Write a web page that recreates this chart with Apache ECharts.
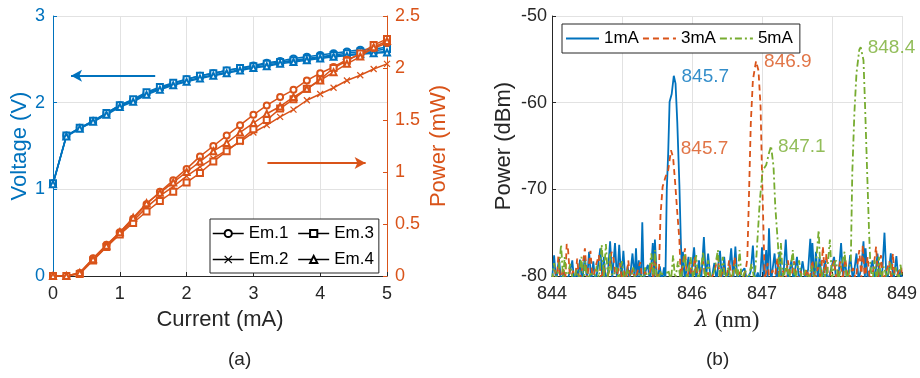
<!DOCTYPE html>
<html><head><meta charset="utf-8">
<script src="https://cdn.jsdelivr.net/npm/echarts@6/dist/echarts.min.js"></script>
<style>html,body{margin:0;padding:0;background:#fff}#c{width:920px;height:378px}</style>
</head><body><div id="c"></div>
<script>
// ---------- Data: (a) L-I-V ----------
const current = [0,0.2,0.4,0.6,0.8,1.0,1.2,1.4,1.6,1.8,2.0,2.2,2.4,2.6,2.8,3.0,3.2,3.4,3.6,3.8,4.0,4.2,4.4,4.6,4.8,5.0];
const voltEm1 = [1.07,1.62,1.71,1.79,1.88,1.97,2.03,2.11,2.17,2.22,2.27,2.31,2.34,2.37,2.40,2.43,2.46,2.48,2.51,2.53,2.55,2.57,2.59,2.61,2.62,2.64];
const voltEm2 = [1.06,1.61,1.70,1.78,1.87,1.96,2.02,2.10,2.16,2.21,2.25,2.29,2.32,2.35,2.38,2.41,2.43,2.46,2.48,2.50,2.52,2.54,2.55,2.57,2.58,2.59];
const voltEm3 = [1.07,1.62,1.71,1.79,1.88,1.97,2.04,2.12,2.18,2.23,2.27,2.31,2.34,2.37,2.40,2.42,2.45,2.47,2.49,2.51,2.53,2.55,2.57,2.59,2.60,2.62];
const voltEm4 = [1.06,1.61,1.70,1.78,1.86,1.95,2.01,2.09,2.15,2.20,2.24,2.28,2.31,2.34,2.37,2.40,2.42,2.45,2.47,2.49,2.51,2.53,2.54,2.56,2.57,2.58];
const powEm1 = [0,0,0.03,0.17,0.30,0.42,0.55,0.69,0.81,0.92,1.03,1.15,1.25,1.35,1.45,1.55,1.64,1.72,1.79,1.88,1.95,2.01,2.08,2.13,2.19,2.24];
const powEm2 = [0,0,0.03,0.16,0.28,0.41,0.53,0.66,0.77,0.86,0.96,1.05,1.13,1.21,1.29,1.38,1.45,1.53,1.60,1.69,1.75,1.81,1.88,1.93,1.99,2.04];
const powEm3 = [0,0,0.02,0.15,0.28,0.40,0.51,0.62,0.72,0.81,0.90,0.99,1.10,1.20,1.30,1.41,1.50,1.61,1.70,1.80,1.89,2.00,2.07,2.14,2.22,2.28];
const powEm4 = [0,0,0.03,0.16,0.29,0.42,0.56,0.70,0.80,0.90,1.00,1.10,1.20,1.28,1.38,1.47,1.56,1.63,1.72,1.80,1.88,1.96,2.04,2.11,2.20,2.26];
const emNames = ['Em.1','Em.2','Em.3','Em.4'];
const emSymbols = ['emptyCircle','path://M-1,-1L1,1M-1,1L1,-1','emptyRect','emptyTriangle'];

// ---------- Data: (b) spectra [wavelength nm, dBm] ----------
const spec1mA = [[844.00,-80.5],[844.03,-77.6],[844.06,-80.8],[844.08,-79.2],[844.10,-78.0],[844.13,-80.6],[844.17,-79.6],[844.21,-80.7],[844.26,-79.4],[844.29,-78.2],[844.32,-80.9],[844.35,-79.1],[844.37,-80.4],[844.40,-78.1],[844.43,-80.8],[844.47,-77.7],[844.50,-80.5],[844.53,-77.2],[844.56,-80.6],[844.59,-78.3],[844.62,-80.8],[844.65,-79.3],[844.69,-76.8],[844.72,-80.5],[844.74,-77.8],[844.77,-80.7],[844.80,-79.5],[844.83,-76.0],[844.86,-80.3],[844.90,-76.2],[844.93,-80.6],[844.96,-76.4],[844.99,-80.4],[845.02,-77.1],[845.05,-80.7],[845.08,-78.9],[845.11,-80.5],[845.15,-77.4],[845.18,-80.2],[845.20,-76.8],[845.22,-80.6],[845.24,-78.2],[845.27,-80.8],[845.29,-73.8],[845.31,-80.5],[845.34,-79.4],[845.37,-78.7],[845.40,-80.9],[845.44,-76.2],[845.46,-80.1],[845.47,-75.8],[845.50,-80.6],[845.54,-78.9],[845.57,-80.7],[845.60,-79.0],[845.62,-80.5],[845.64,-70.0],[845.66,-65.8],[845.68,-59.9],[845.71,-59.0],[845.74,-56.9],[845.765,-57.8],[845.79,-62.3],[845.82,-69.5],[845.84,-75.8],[845.86,-80.5],[845.87,-77.2],[845.90,-80.4],[845.95,-77.8],[845.98,-80.6],[846.03,-76.7],[846.06,-80.3],[846.10,-78.2],[846.13,-80.7],[846.17,-75.5],[846.20,-80.4],[846.23,-77.4],[846.27,-80.8],[846.32,-78.5],[846.35,-80.5],[846.40,-77.1],[846.43,-80.6],[846.46,-77.8],[846.49,-80.7],[846.53,-79.3],[846.56,-76.8],[846.59,-80.5],[846.62,-76.6],[846.65,-80.8],[846.70,-79.6],[846.75,-79.1],[846.79,-80.7],[846.84,-79.4],[846.87,-76.5],[846.90,-80.6],[846.94,-79.6],[846.97,-80.8],[847.00,-76.7],[847.03,-80.4],[847.06,-77.0],[847.08,-80.3],[847.10,-74.5],[847.13,-80.6],[847.18,-77.4],[847.21,-80.5],[847.25,-77.2],[847.28,-80.7],[847.31,-79.5],[847.34,-75.8],[847.37,-80.6],[847.42,-78.2],[847.45,-80.5],[847.50,-77.8],[847.53,-80.8],[847.58,-78.3],[847.62,-80.6],[847.66,-79.2],[847.69,-75.7],[847.71,-80.2],[847.72,-76.2],[847.75,-80.5],[847.77,-77.2],[847.80,-80.7],[847.82,-77.8],[847.86,-80.5],[847.90,-78.2],[847.94,-80.7],[847.98,-79.4],[848.03,-77.8],[848.06,-80.6],[848.10,-79.3],[848.13,-76.2],[848.16,-80.5],[848.18,-77.8],[848.22,-80.7],[848.26,-77.6],[848.30,-80.6],[848.35,-77.4],[848.38,-80.5],[848.42,-79.0],[848.45,-76.0],[848.47,-80.3],[848.48,-76.8],[848.51,-80.6],[848.54,-79.5],[848.58,-78.2],[848.61,-80.7],[848.65,-77.4],[848.68,-80.5],[848.72,-79.3],[848.75,-75.0],[848.78,-80.6],[848.81,-79.6],[848.84,-77.4],[848.88,-80.5],[848.92,-77.7],[848.95,-80.6],[848.98,-79.2],[849.00,-80.5]];
const spec3mA = [[844.00,-80.6],[844.04,-79.3],[844.07,-80.5],[844.09,-77.7],[844.12,-80.7],[844.16,-79.0],[844.19,-80.4],[844.21,-76.3],[844.23,-77.0],[844.26,-80.6],[844.30,-79.4],[844.33,-80.5],[844.36,-78.0],[844.39,-80.7],[844.43,-79.2],[844.47,-76.8],[844.50,-80.4],[844.55,-77.1],[844.58,-80.6],[844.62,-79.0],[844.67,-77.6],[844.70,-80.5],[844.74,-78.9],[844.78,-80.6],[844.82,-79.3],[844.85,-77.2],[844.88,-78.0],[844.91,-80.5],[844.97,-78.5],[845.00,-80.6],[845.03,-79.4],[845.06,-80.5],[845.09,-78.2],[845.12,-80.7],[845.15,-79.2],[845.19,-80.4],[845.26,-78.4],[845.29,-80.6],[845.33,-79.5],[845.38,-80.5],[845.42,-78.5],[845.45,-80.4],[845.47,-77.5],[845.50,-80.6],[845.53,-79.0],[845.55,-73.0],[845.58,-69.7],[845.62,-68.6],[845.66,-67.8],[845.70,-65.5],[845.73,-66.3],[845.76,-69.3],[845.79,-72.7],[845.82,-75.8],[845.84,-80.5],[845.87,-78.5],[845.90,-76.8],[845.93,-80.5],[845.97,-78.4],[846.00,-80.7],[846.04,-77.8],[846.08,-80.5],[846.12,-79.3],[846.16,-78.3],[846.19,-80.6],[846.23,-79.6],[846.27,-80.4],[846.32,-79.5],[846.37,-77.8],[846.40,-80.5],[846.45,-79.0],[846.49,-80.6],[846.53,-78.2],[846.57,-80.5],[846.61,-77.8],[846.64,-80.6],[846.68,-79.5],[846.72,-80.7],[846.77,-79.2],[846.79,-78.0],[846.81,-72.0],[846.84,-62.4],[846.87,-57.4],[846.915,-55.2],[846.95,-56.3],[846.98,-60.5],[847.00,-68.1],[847.02,-74.3],[847.04,-80.5],[847.08,-78.5],[847.11,-80.6],[847.15,-79.3],[847.18,-80.5],[847.22,-77.9],[847.25,-80.6],[847.30,-79.4],[847.34,-80.5],[847.37,-78.2],[847.41,-80.6],[847.46,-78.3],[847.50,-80.5],[847.55,-79.4],[847.60,-80.7],[847.64,-79.2],[847.68,-80.5],[847.72,-78.2],[847.75,-80.6],[847.80,-79.0],[847.84,-80.4],[847.87,-76.6],[847.90,-80.3],[847.92,-77.4],[847.95,-80.6],[848.03,-78.2],[848.06,-80.5],[848.12,-78.3],[848.15,-80.6],[848.19,-78.0],[848.23,-80.5],[848.30,-79.1],[848.34,-80.4],[848.39,-77.0],[848.42,-80.3],[848.44,-76.4],[848.47,-80.5],[848.51,-77.8],[848.54,-80.6],[848.59,-79.3],[848.63,-76.6],[848.66,-80.4],[848.70,-77.6],[848.73,-80.6],[848.78,-79.4],[848.82,-78.3],[848.85,-80.5],[848.87,-77.4],[848.90,-80.6],[848.95,-79.5],[848.99,-79.0],[849.00,-80.3]];
const spec5mA = [[844.00,-80.5],[844.03,-78.5],[844.06,-80.4],[844.10,-79.0],[844.13,-76.4],[844.16,-80.6],[844.18,-77.8],[844.21,-80.5],[844.26,-78.6],[844.30,-80.7],[844.35,-79.3],[844.38,-80.5],[844.42,-77.8],[844.45,-80.6],[844.47,-78.3],[844.51,-80.5],[844.56,-79.5],[844.60,-80.7],[844.64,-78.8],[844.67,-80.4],[844.71,-76.4],[844.74,-80.2],[844.77,-76.3],[844.80,-80.5],[844.83,-77.4],[844.86,-80.6],[844.92,-79.0],[844.95,-80.5],[845.00,-78.3],[845.03,-80.6],[845.08,-79.2],[845.12,-80.5],[845.16,-79.0],[845.20,-80.7],[845.25,-79.6],[845.30,-80.5],[845.33,-79.0],[845.37,-80.6],[845.42,-77.4],[845.45,-80.3],[845.47,-77.0],[845.50,-80.6],[845.56,-79.4],[845.60,-80.5],[845.66,-79.3],[845.70,-80.6],[845.73,-77.6],[845.76,-80.5],[845.80,-78.3],[845.84,-80.6],[845.90,-77.4],[845.93,-80.5],[845.98,-77.8],[846.02,-80.6],[846.06,-77.6],[846.09,-80.4],[846.13,-79.0],[846.16,-77.2],[846.19,-80.6],[846.23,-78.2],[846.27,-80.5],[846.32,-79.4],[846.37,-77.0],[846.40,-80.5],[846.44,-77.8],[846.47,-80.6],[846.52,-79.0],[846.56,-80.5],[846.62,-78.7],[846.65,-80.4],[846.68,-77.0],[846.71,-80.6],[846.76,-79.3],[846.80,-80.5],[846.85,-78.6],[846.89,-80.4],[846.92,-77.8],[846.97,-71.2],[847.01,-67.8],[847.06,-67.2],[847.10,-65.8],[847.13,-65.0],[847.165,-67.4],[847.19,-72.0],[847.23,-76.6],[847.25,-80.5],[847.27,-76.2],[847.30,-80.6],[847.35,-78.6],[847.39,-80.4],[847.44,-77.0],[847.47,-80.5],[847.53,-78.2],[847.57,-80.6],[847.62,-79.3],[847.66,-80.5],[847.71,-78.8],[847.75,-80.6],[847.81,-74.7],[847.84,-80.5],[847.88,-79.2],[847.92,-80.6],[847.97,-75.8],[848.00,-80.5],[848.03,-78.6],[848.06,-78.2],[848.09,-80.6],[848.13,-79.0],[848.18,-77.2],[848.21,-80.5],[848.25,-79.5],[848.27,-77.8],[848.29,-68.1],[848.32,-61.2],[848.35,-56.6],[848.39,-53.9],[848.41,-53.6],[848.45,-55.1],[848.47,-59.7],[848.50,-67.4],[848.53,-75.0],[848.55,-79.0],[848.58,-80.5],[848.61,-78.2],[848.64,-80.6],[848.67,-77.8],[848.70,-80.5],[848.74,-78.9],[848.79,-80.4],[848.83,-78.3],[848.87,-80.6],[848.91,-79.0],[848.95,-80.5],[848.98,-78.7],[849.00,-80.4]];
const specNames = ['1mA','3mA','5mA'];
const peakLabels = ['845.7','846.9','848.4','845.7','847.1'];
const peakPos = [[845.85,-57.0],[847.03,-55.3],[848.51,-53.7],[845.84,-65.35],[847.23,-65.1]];
const peakSeries = [0,1,2,1,2];

// ---------- Styles ----------
const BLUE = '#0072BD', ORANGE = '#D95319', GREEN = '#77AC30', AX = '#262626', GRID = '#e2e2e2';
const FONT = "'Liberation Sans', Arial, sans-serif";
const specColors = [BLUE, ORANGE, GREEN];
const specDash = ['solid', [6,4], [7,3,2,3]];

const chart = echarts.init(document.getElementById('c'), null, {renderer:'canvas'});

const emSeries = [];
const volt = [voltEm1, voltEm2, voltEm3, voltEm4];
const pow = [powEm1, powEm2, powEm3, powEm4];
for (let k = 0; k < 4; k++) {
  emSeries.push({
    type:'line', name: emNames[k] + 'V', xAxisIndex:0, yAxisIndex:0,
    data: current.map((c,i)=>[c, volt[k][i]]),
    symbol: emSymbols[k], symbolSize: 6, showSymbol:true,
    lineStyle:{color:BLUE, width:1.5}, itemStyle:{color:BLUE, borderColor:BLUE, borderWidth:1.2},
    emphasis:{disabled:true}, animation:false, z:3
  });
}
for (let k = 0; k < 4; k++) {
  emSeries.push({
    type:'line', name: emNames[k], xAxisIndex:0, yAxisIndex:1,
    data: current.map((c,i)=>[c, pow[k][i]]),
    symbol: emSymbols[k], symbolSize: 6, showSymbol:true,
    lineStyle:{color:ORANGE, width:1.5}, itemStyle:{color:ORANGE, borderColor:ORANGE, borderWidth:1.2},
    emphasis:{disabled:true}, animation:false, z:4
  });
}
// arrows
emSeries.push({
  type:'line', xAxisIndex:0, yAxisIndex:0, data:[], silent:true, animation:false,
  markLine:{silent:true, symbol:['none','arrow'], symbolSize:[9,11], label:{show:false},
    lineStyle:{color:BLUE, width:2, type:'solid'},
    data:[[{coord:[1.53,2.31]},{coord:[0.27,2.31]}]]}
});
emSeries.push({
  type:'line', xAxisIndex:0, yAxisIndex:1, data:[], silent:true, animation:false,
  markLine:{silent:true, symbol:['none','arrow'], symbolSize:[9,11], label:{show:false},
    lineStyle:{color:ORANGE, width:2, type:'solid'},
    data:[[{coord:[3.21,1.087]},{coord:[4.68,1.087]}]]}
});

const specSeries = [spec1mA, spec3mA, spec5mA].map((d,k)=>({
  type:'line', name: specNames[k], xAxisIndex:1, yAxisIndex:2, data:d,
  showSymbol:false, symbol:'none', clip:true,
  lineStyle:{color:specColors[k], width:1.8, type:specDash[k]}, itemStyle:{color:specColors[k]},
  emphasis:{disabled:true}, animation:false
}));
specSeries.push({
  type:'scatter', xAxisIndex:1, yAxisIndex:2, symbolSize:0, silent:true, animation:false,
  data: peakPos.map((p,i)=>({value:p, label:{show:true, position:'right', distance:0,
    formatter: peakLabels[i], color: specColors[peakSeries[i]], fontSize:19, fontFamily:FONT}})),
  z:10
});

const tickLabel = (c)=>({color:c, fontSize:18, fontFamily:FONT});

chart.setOption({
  backgroundColor:'#fff',
  animation:false,
  grid:[
    {left:53, right:533, top:16, bottom:102},
    {left:552, right:17, top:16, bottom:102}
  ],
  xAxis:[
    {gridIndex:0, type:'value', min:0, max:5, interval:1,
     axisLine:{show:true, lineStyle:{color:AX, width:1}}, axisTick:{inside:true, length:4, lineStyle:{color:AX}},
     axisLabel:{...tickLabel(AX), margin:9},
     splitLine:{show:true, lineStyle:{color:GRID, width:1}},
     name:'Current (mA)', nameLocation:'middle', nameGap:33,
     nameTextStyle:{color:AX, fontSize:22, fontFamily:FONT}},
    {gridIndex:1, type:'value', min:844, max:849, interval:1,
     axisLine:{show:true, lineStyle:{color:AX, width:1}}, axisTick:{inside:true, length:4, lineStyle:{color:AX}},
     axisLabel:{...tickLabel(AX), margin:9},
     splitLine:{show:true, lineStyle:{color:GRID, width:1}},
     name:'{i|λ} {n|(nm)}', nameLocation:'middle', nameGap:33,
     nameTextStyle:{color:AX, fontSize:22, rich:{
       i:{fontFamily:"'DejaVu Serif','Liberation Serif',serif", fontStyle:'italic', fontSize:22, color:AX},
       n:{fontFamily:"'Liberation Serif','DejaVu Serif',serif", fontSize:23, color:AX}}}}
  ],
  yAxis:[
    {gridIndex:0, type:'value', min:0, max:3, interval:1, position:'left',
     axisLine:{show:true, lineStyle:{color:BLUE, width:1}}, axisTick:{show:true, inside:true, length:4, lineStyle:{color:BLUE}},
     axisLabel:tickLabel(BLUE),
     splitLine:{show:true, lineStyle:{color:GRID, width:1}},
     name:'Voltage (V)', nameLocation:'middle', nameGap:20,
     nameTextStyle:{color:BLUE, fontSize:22, fontFamily:FONT}},
    {gridIndex:0, type:'value', min:0, max:2.5, interval:0.5, position:'right',
     axisLine:{show:true, lineStyle:{color:ORANGE, width:1}}, axisTick:{show:true, inside:true, length:4, lineStyle:{color:ORANGE}},
     axisLabel:tickLabel(ORANGE),
     splitLine:{show:false},
     name:'Power (mW)', nameLocation:'middle', nameGap:41, nameRotate:90,
     nameTextStyle:{color:ORANGE, fontSize:22, fontFamily:FONT}},
    {gridIndex:1, type:'value', min:-80, max:-50, interval:10,
     axisLine:{show:true, lineStyle:{color:AX, width:1}}, axisTick:{show:true, inside:true, length:4, lineStyle:{color:AX}},
     axisLabel:{...tickLabel(AX), margin:5},
     splitLine:{show:true, lineStyle:{color:GRID, width:1}},
     name:'Power (dBm)', nameLocation:'middle', nameGap:37,
     nameTextStyle:{color:AX, fontSize:22, fontFamily:FONT}}
  ],
  legend:[
    {data:['Em.1','Em.3','Em.2','Em.4'], left:210, top:219, width:172, orient:'horizontal',
     itemWidth:31, itemHeight:9, itemGap:9, padding:[6,5,5,2],
     backgroundColor:'#fff', borderColor:AX, borderWidth:1, borderRadius:0,
     selectedMode:false,
     textStyle:{color:'#000', fontSize:17, fontFamily:FONT, lineHeight:14},
     lineStyle:{color:'#000', width:1.5},
     itemStyle:{color:'#000', borderColor:'#000', borderWidth:1.2}},
    {data:specNames, left:562, top:24, orient:'horizontal',
     itemWidth:33, itemHeight:14, itemGap:3, padding:[6,7,6,3],
     backgroundColor:'#fff', borderColor:AX, borderWidth:1, borderRadius:0,
     selectedMode:false,
     itemStyle:{opacity:0},
     textStyle:{color:'#000', fontSize:17, fontFamily:FONT, lineHeight:14}}
  ],
  graphic:[
    {type:'text', left:228, top:350, style:{text:'(a)', fontSize:19, fontFamily:FONT, fill:AX}},
    {type:'text', left:706, top:350, style:{text:'(b)', fontSize:19, fontFamily:FONT, fill:AX}}
  ],
  series:[...emSeries, ...specSeries]
});
</script></body></html>
